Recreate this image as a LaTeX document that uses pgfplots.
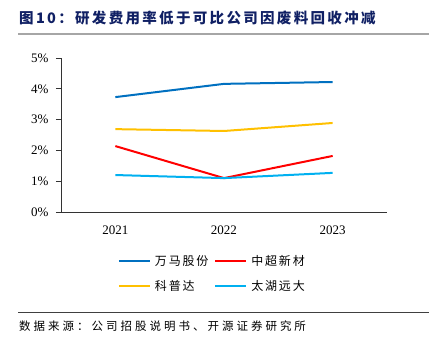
\documentclass[border=0pt]{standalone}
\usepackage{pgfplots}
\pgfplotsset{compat=1.18}
\usepackage{fontspec}
\setmainfont{Liberation Serif}
\newfontfamily\cjk{Noto Sans CJK SC}
\newfontfamily\cjkt{Noto Sans CJK SC}[LetterSpace=16]
\newfontfamily\cjks{Noto Sans CJK SC}[LetterSpace=26]
\newfontfamily\cjkl{Noto Sans CJK SC}[LetterSpace=15]
\definecolor{cwm}{RGB}{0,112,192}
\definecolor{czc}{RGB}{255,0,0}
\definecolor{ckp}{RGB}{255,192,0}
\definecolor{cth}{RGB}{0,176,240}
\definecolor{ctitle}{RGB}{16,32,100}
\begin{document}
\begin{tikzpicture}[x=1pt,y=1pt]
\path[use as bounding box] (0pt,0pt) rectangle (429pt,352pt);
\node[anchor=west,text=ctitle,font=\cjkt\bfseries\fontsize{14.5}{16}\selectfont,inner sep=0] at (19pt,334pt) {图10：研发费用率低于可比公司因废料回收冲减};
\draw[gray!70,line width=2.5pt] (18pt,318pt) -- (429pt,318pt);
\draw[black!75,line width=0.6pt] (18pt,40pt) -- (429pt,40pt);
\node[anchor=west,font=\cjks\fontsize{11.5}{13}\selectfont,inner sep=0] at (19pt,26pt) {数据来源：公司招股说明书、开源证券研究所};
\begin{axis}[
  at={(61pt,140pt)}, anchor=south west,
  scale only axis, width=326pt, height=154pt,
  xmin=-0.5, xmax=2.5, ymin=0, ymax=5,
  axis x line*=bottom, axis y line*=left,
  axis line style={black!80, line width=0.6pt},
  xtick={0,1,2}, xticklabels={2021,2022,2023},
  extra x ticks={0.5,1.5,2.5}, extra x tick labels={},
  extra x tick style={major tick length=5pt, tick style={black!80,line width=0.6pt}},
  major x tick style={draw=none},
  ytick={0,1,2,3,4,5},
  yticklabel={\pgfmathprintnumber{\tick}\%},
  y tick style={black!80,line width=0.6pt},
  ytick align=outside, major tick length=5pt,
  tick label style={font=\fontsize{13}{15}\selectfont},
  /pgf/number format/assume math mode=true,
  xticklabel style={yshift=-10pt},
  yticklabel style={xshift=-4pt},
  legend columns=2,
  legend cell align=left,
  legend style={at={(0.165,-0.255)}, anchor=north west, draw=none, fill=none,
    font=\cjkl\fontsize{12}{14}\selectfont, row sep=9pt, column sep=2pt,
    /tikz/every even column/.append style={column sep=4pt}},
  legend image code/.code={\draw[#1,line width=2pt] (0pt,0pt) -- (31pt,0pt);},
  every axis plot/.append style={line width=2pt},
]
\addplot[cwm] coordinates {(0,3.73) (1,4.16) (2,4.22)};
\addplot[czc] coordinates {(0,2.14) (1,1.10) (2,1.82)};
\addplot[ckp] coordinates {(0,2.69) (1,2.63) (2,2.89)};
\addplot[cth] coordinates {(0,1.20) (1,1.10) (2,1.27)};
\legend{万马股份,中超新材,科普达,太湖远大}
\end{axis}
\end{tikzpicture}
\end{document}
